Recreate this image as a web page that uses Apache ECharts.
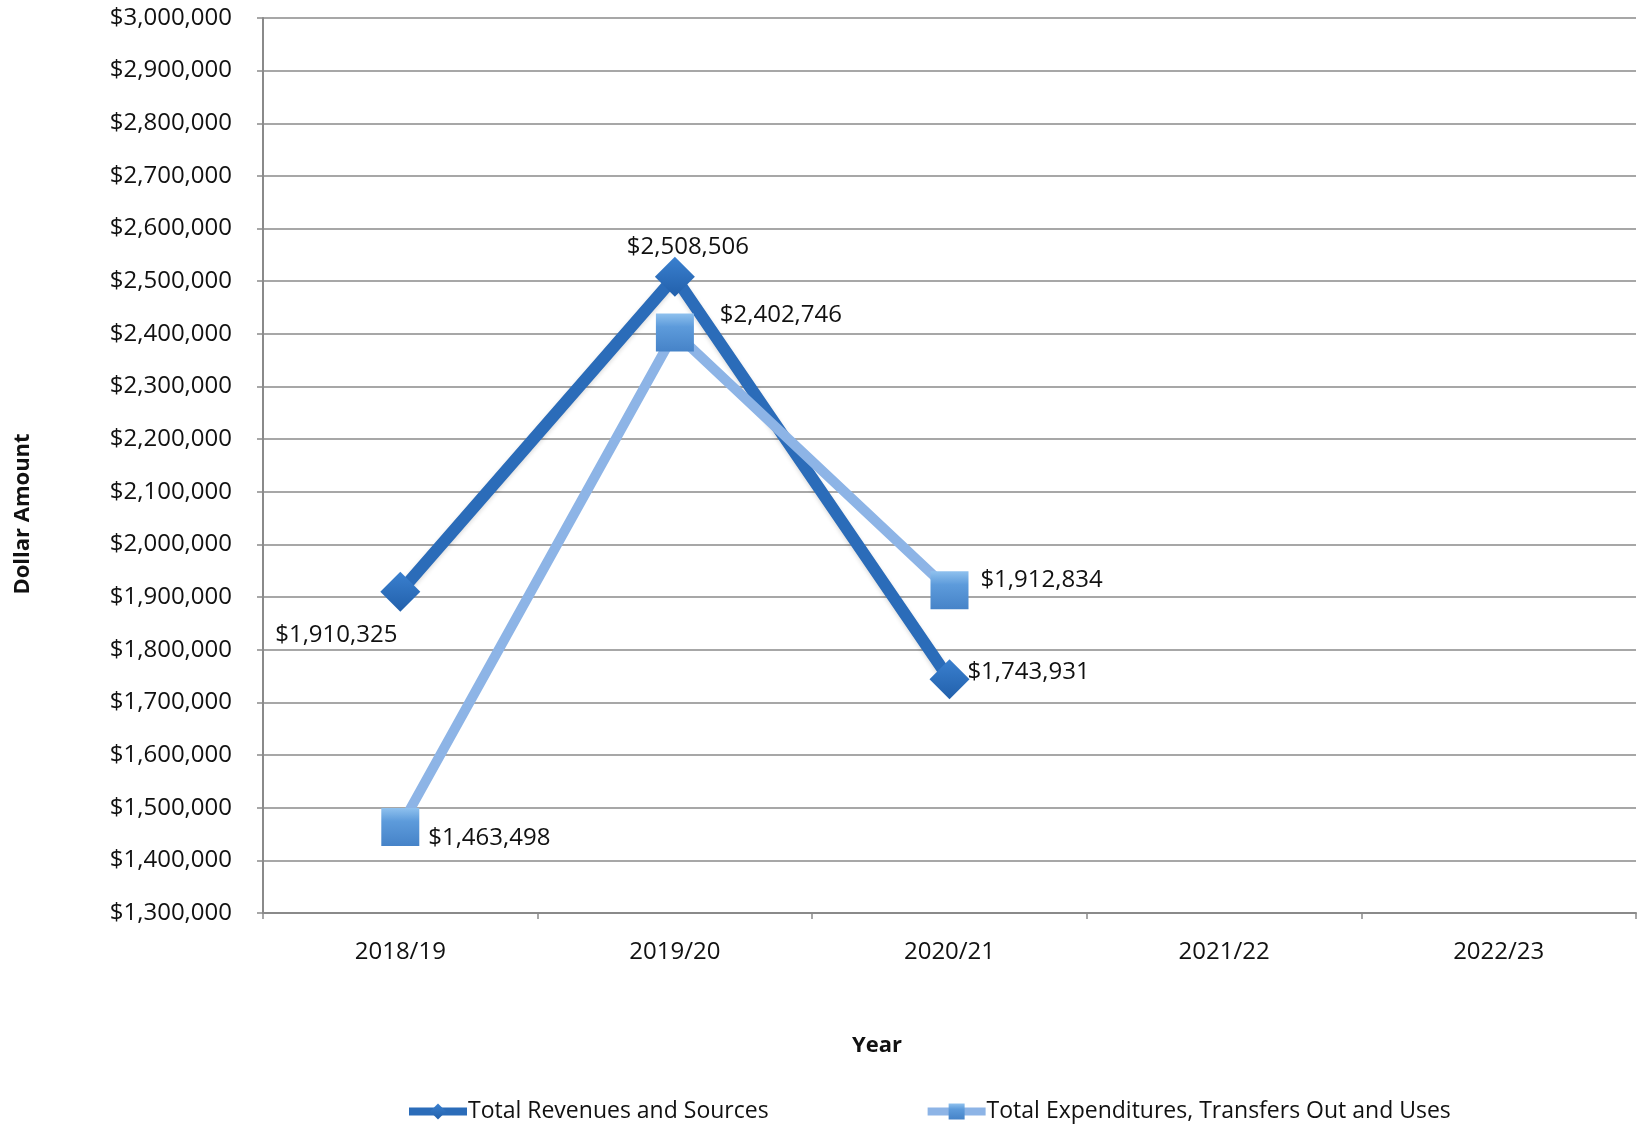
<!DOCTYPE html>
<html>
<head>
<meta charset="utf-8">
<title>Revenues and Expenditures</title>
<script src="https://cdn.jsdelivr.net/npm/echarts@6/dist/echarts.min.js"></script>
<style>
  html, body { margin: 0; padding: 0; background: #ffffff; }
  #chart { width: 1637px; height: 1126px; }
</style>
</head>
<body>
<div id="chart"></div>
<script>
// Fiscal years on the category axis
const years = ['2018/19', '2019/20', '2020/21', '2021/22', '2022/23'];

// Annual totals (dollars); later years not yet reported
const revenues = [1910325, 2508506, 1743931, null, null];
const expenditures = [1463498, 2402746, 1912834, null, null];

// Value axis range and step
const yMin = 1300000;
const yMax = 3000000;
const yStep = 100000;

// Where each value label sits relative to its marker
const revenueLabelOffsets = [[-64, 43], [13, -30], [79, -7]];
const expenditureLabelOffsets = [[89, 11], [106, -17], [92, -10]];

const FONT = '"Open Sans", "Liberation Sans", sans-serif';
const INK = '#111111';

function money(v) {
  return '$' + Math.round(v).toString().replace(/\B(?=(\d{3})+(?!\d))/g, ',');
}

function withLabels(values, offsets) {
  return values.map((v, i) => {
    if (v == null) return null;
    return {
      value: v,
      label: {
        show: true,
        position: 'inside',
        offset: offsets[i],
        align: 'center',
        verticalAlign: 'middle',
        formatter: (p) => money(p.value),
        color: INK,
        fontFamily: FONT,
        fontSize: 24
      }
    };
  });
}

const chart = echarts.init(document.getElementById('chart'), null, { renderer: 'canvas' });

chart.setOption({
  backgroundColor: '#ffffff',
  animation: false,
  grid: { left: 263, right: 1, top: 18, bottom: 213 },
  xAxis: {
    type: 'category',
    data: years,
    boundaryGap: true,
    axisLine: { show: true, lineStyle: { color: '#8a8a8a', width: 2 } },
    axisTick: { show: true, length: 6, inside: false, lineStyle: { color: '#8a8a8a', width: 1.5 } },
    axisLabel: { color: INK, fontFamily: FONT, fontSize: 24, margin: 27 },
    splitLine: { show: false }
  },
  yAxis: {
    type: 'value',
    min: yMin,
    max: yMax,
    interval: yStep,
    axisLine: { show: true, lineStyle: { color: '#8a8a8a', width: 2 } },
    axisTick: { show: true, length: 6, lineStyle: { color: '#8a8a8a', width: 1.5 } },
    axisLabel: { color: INK, fontFamily: FONT, fontSize: 24, margin: 31, formatter: money },
    splitLine: { show: true, lineStyle: { color: '#8a8a8a', width: 1.5 } }
  },
  legend: {
    left: 400,
    top: 1095,
    itemWidth: 58,
    itemHeight: 20,
    itemGap: 155,
    lineStyle: { width: 8 },
    textStyle: { color: INK, fontFamily: FONT, fontSize: 23, padding: [0, 0, 0, -4] },
    data: ['Total Revenues and Sources', 'Total Expenditures, Transfers Out and Uses']
  },
  graphic: [
    {
      type: 'text',
      x: 23,
      y: 514,
      rotation: Math.PI / 2,
      style: {
        text: 'Dollar Amount',
        fill: INK,
        font: 'bold 22px ' + FONT,
        textAlign: 'center',
        textVerticalAlign: 'middle'
      }
    },
    {
      type: 'text',
      x: 877,
      y: 1046,
      style: {
        text: 'Year',
        fill: INK,
        font: 'bold 22px ' + FONT,
        textAlign: 'center',
        textVerticalAlign: 'middle'
      }
    }
  ],
  series: [
    {
      name: 'Total Revenues and Sources',
      type: 'line',
      data: withLabels(revenues, revenueLabelOffsets),
      symbol: 'diamond',
      symbolSize: 40,
      connectNulls: false,
      lineStyle: { color: '#2b6cb9', width: 12, shadowColor: 'rgba(0,0,0,0.15)', shadowBlur: 4, shadowOffsetY: 2 },
      itemStyle: {
        color: new echarts.graphic.LinearGradient(0, 0, 0, 1, [
          { offset: 0, color: '#3a80cf' },
          { offset: 1, color: '#2260ab' }
        ]),
        borderWidth: 0
      },
      z: 2
    },
    {
      name: 'Total Expenditures, Transfers Out and Uses',
      type: 'line',
      data: withLabels(expenditures, expenditureLabelOffsets),
      symbol: 'rect',
      symbolSize: 38,
      connectNulls: false,
      lineStyle: { color: '#8db4e6', width: 10 },
      itemStyle: {
        color: new echarts.graphic.LinearGradient(0, 0, 0, 1, [
          { offset: 0, color: '#8fc1ee' },
          { offset: 0.35, color: '#5d9bdb' },
          { offset: 1, color: '#4683c8' }
        ]),
        borderWidth: 0
      },
      z: 3
    }
  ]
});
</script>
</body>
</html>
